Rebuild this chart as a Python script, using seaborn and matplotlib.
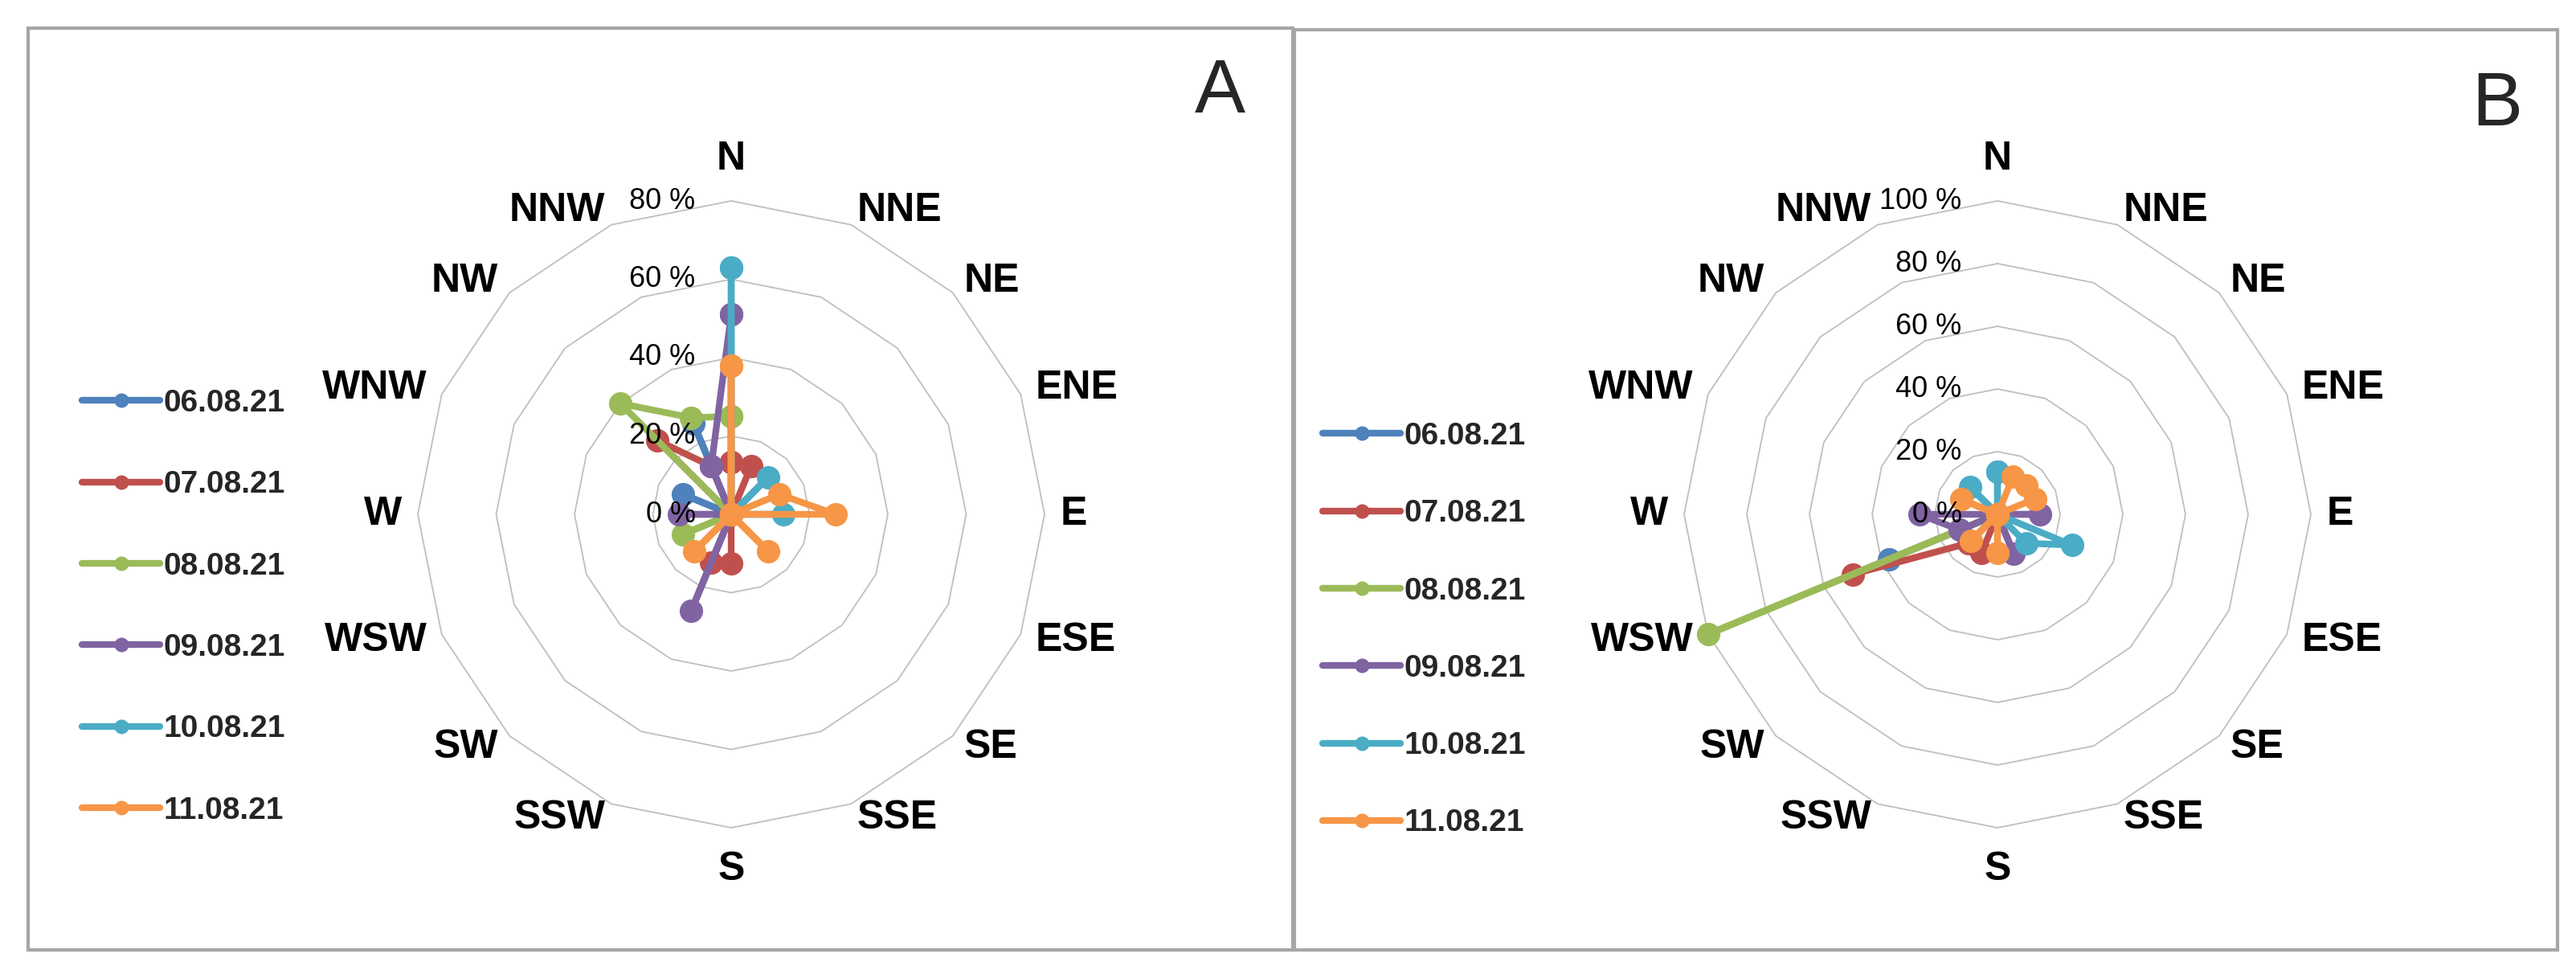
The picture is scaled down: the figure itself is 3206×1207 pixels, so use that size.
import numpy as np
import pandas as pd
import matplotlib
matplotlib.use("Agg")
import matplotlib.pyplot as plt
from matplotlib.lines import Line2D
from matplotlib.patches import Rectangle
import seaborn as sns

# Wind directions (clockwise from N)
directions = ['N', 'NNE', 'NE', 'ENE', 'E', 'ESE', 'SE', 'SSE',
              'S', 'SSW', 'SW', 'WSW', 'W', 'WNW', 'NW', 'NNW']
dates = ['06.08.21', '07.08.21', '08.08.21', '09.08.21', '10.08.21', '11.08.21']
colors = ['#4F81BD', '#C0504D', '#9BBB59', '#8064A2', '#4BACC6', '#F79646']

# Panel A frequencies (%), order as in directions
a_0608 = [0, 0, 0, 0, 0, 0, 0, 0, 0, 0, 0, 0, 0, 13.3, 0, 25]
a_0708 = [13.3, 13.3, 0, 0, 0, 0, 0, 0, 12.5, 13.3, 0, 0, 0, 0, 26.7, 13.3]
a_0808 = [25, 0, 0, 0, 0, 0, 0, 0, 0, 0, 0, 13.3, 0, 0, 40, 26.7]
a_0908 = [51, 0, 0, 0, 0, 0, 0, 0, 0, 26.7, 0, 0, 13.3, 0, 0, 13.3]
a_1008 = [63, 0, 13.3, 0, 13.3, 0, 0, 0, 0, 0, 0, 0, 0, 0, 0, 0]
a_1108 = [38, 0, 0, 13.3, 26.7, 0, 13.3, 0, 0, 0, 13.3, 0, 0, 0, 0, 0]

# Panel B frequencies (%)
b_0608 = [0, 0, 0, 0, 0, 0, 0, 0, 0, 0, 0, 37.5, 0, 0, 0, 0]
b_0708 = [0, 0, 0, 0, 0, 0, 0, 0, 0, 13.4, 13, 50, 0, 0, 0, 0]
b_0808 = [0, 0, 0, 0, 0, 0, 0, 0, 0, 0, 0, 100, 0, 0, 0, 0]
b_0908 = [0, 0, 0, 0, 13.5, 0, 0, 13.5, 0, 0, 0, 13, 25, 0, 0, 0]
b_1008 = [13.6, 0, 0, 0, 0, 25.7, 13, 0, 0, 0, 0, 0, 0, 0, 12.5, 0]
b_1108 = [0, 13, 13, 13, 0, 0, 0, 0, 12.3, 0, 12, 0, 0, 12.5, 0, 0]

ticks_a = [0, 20, 40, 60, 80]
ticks_b = [0, 20, 40, 60, 80, 100]


def to_long(series):
    rows = []
    n = len(directions)
    for date, vals in zip(dates, series):
        # close the polygon by repeating N at 2*pi
        for i in range(n + 1):
            rows.append({'date': date,
                         'theta': 2 * np.pi * i / n,
                         'value': vals[i % n]})
    return pd.DataFrame(rows)


df_a = to_long([a_0608, a_0708, a_0808, a_0908, a_1008, a_1108])
df_b = to_long([b_0608, b_0708, b_0808, b_0908, b_1008, b_1108])

sns.set_theme(style='white')
plt.rcParams['font.family'] = ['Liberation Sans', 'DejaVu Sans']

W, H = 3206, 1207
fig = plt.figure(figsize=(W / 100, H / 100), dpi=100)
fig.patch.set_facecolor('white')

# panel frames
for x0, x1, y0, y1 in [(35, 1609, 35, 1182), (1611, 3183, 37, 1182)]:
    fig.patches.append(Rectangle((x0 / W, 1 - y1 / H), (x1 - x0) / W, (y1 - y0) / H,
                                 transform=fig.transFigure, fill=False,
                                 edgecolor='#A6A6A6', linewidth=3))


def radar(df, ticks, cx, cy, R):
    ax = fig.add_axes([(cx - R) / W, 1 - (cy + R) / H, 2 * R / W, 2 * R / H],
                      projection='polar')
    ax.set_theta_zero_location('N')
    ax.set_theta_direction(-1)
    rmax = ticks[-1]
    ax.set_ylim(0, rmax)
    ax.grid(False)
    ax.spines['polar'].set_visible(False)
    ax.set_xticks([])
    ax.set_yticks([])
    ax.patch.set_alpha(0)

    ang = np.linspace(0, 2 * np.pi, len(directions) + 1)
    for t in ticks[1:]:
        ax.plot(ang, [t] * len(ang), color='#BFBFBF', lw=1.3, zorder=1, clip_on=False)

    sns.lineplot(data=df, x='theta', y='value', hue='date', hue_order=dates,
                 palette=colors, sort=False, estimator=None, marker='o',
                 markersize=21, markeredgewidth=0, linewidth=6, legend=False, ax=ax)
    for ln in ax.lines:
        ln.set_clip_on(False)
        ln.set_zorder(3)
    ax.set_xlabel('')
    ax.set_ylabel('')
    ax.set_ylim(0, rmax)

    for i, d in enumerate(directions):
        th = 2 * np.pi * i / len(directions)
        s, c = np.sin(th), np.cos(th)
        if abs(s) < 0.1:
            ha = 'center'
            va = 'bottom' if c > 0 else 'top'
            rr = rmax * 1.075
        else:
            ha = 'left' if s > 0 else 'right'
            va = 'center'
            rr = rmax * 1.05
        ax.text(th, rr, d, ha=ha, va=va, fontsize=36, fontweight='bold',
                color='black', clip_on=False)

    for t in ticks:
        ax.annotate(f'{t} %', xy=(0, t), xytext=(-32, 0), textcoords='offset points',
                    ha='right', va='center', fontsize=26, color='black',
                    annotation_clip=False, zorder=5)
    return ax


ax_a = radar(df_a, ticks_a, 910, 640, 390)
ax_b = radar(df_b, ticks_b, 2486, 640, 390)

handles = [Line2D([0], [0], color=c, lw=6, marker='o', markersize=13,
                  markeredgewidth=0, solid_capstyle='round') for c in colors]
for x, y, sp in [(102, 484, 1.68), (1646, 525, 1.55)]:
    fig.legend(handles, dates, loc='upper left', bbox_to_anchor=(x / W, 1 - y / H),
               bbox_transform=fig.transFigure, frameon=False,
               prop={'size': 28, 'weight': 'bold'}, labelspacing=sp,
               handlelength=2.5, handletextpad=0.1, borderpad=0, borderaxespad=0)

fig.text(1518 / W, 1 - 116 / H, 'A', fontsize=68, ha='center', va='center')
fig.text(3108 / W, 1 - 132 / H, 'B', fontsize=68, ha='center', va='center')

fig.savefig('out.png', dpi=100, facecolor='white')
